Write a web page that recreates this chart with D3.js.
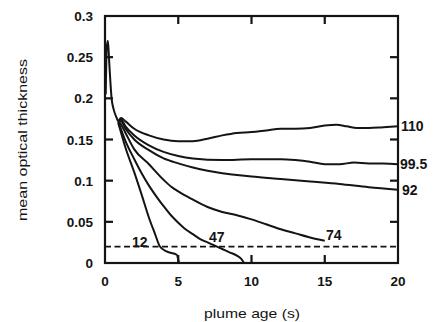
<!DOCTYPE html>
<html><head><meta charset="utf-8">
<script src="https://cdn.jsdelivr.net/npm/d3@7"></script>
<style>body{margin:0;background:#fff}svg{display:block}</style>
</head><body>
<svg id="c" width="433" height="322"></svg>
<script>
// ---- data ----
const xTicks = [0, 5, 10, 15, 20];
const yTicks = [0, 0.05, 0.1, 0.15, 0.2, 0.25, 0.3];
const yTickLabels = ["0", "0.05", "0.1", "0.15", "0.2", "0.25", "0.3"];
const thresholdValue = 0.02;

// shared initial spike
const spikeT = [0.05, 0.12, 0.2, 0.3, 0.45, 0.6, 0.8, 0.9];
const spikeV = [0.205, 0.262, 0.27, 0.24, 0.2, 0.186, 0.176, 0.172];

const seriesNames = ["110", "99.5", "92", "74", "47", "12"];
const t110 = [0.9, 1.1, 1.4, 2, 3, 4, 5, 6, 7, 8, 9, 10, 11, 12, 13, 14, 15, 15.8, 16.5, 17.2, 18, 19, 20];
const v110 = [0.172, 0.176, 0.172, 0.163, 0.155, 0.15, 0.148, 0.148, 0.151, 0.155, 0.158, 0.159, 0.161, 0.163, 0.163, 0.164, 0.167, 0.168, 0.166, 0.164, 0.164, 0.165, 0.166];
const t995 = [0.9, 1.1, 1.4, 2, 3, 4, 5, 6, 8, 10, 12, 13, 14, 15, 16, 17, 18, 19, 20];
const v995 = [0.172, 0.174, 0.166, 0.155, 0.143, 0.135, 0.13, 0.127, 0.125, 0.126, 0.126, 0.125, 0.123, 0.12, 0.12, 0.122, 0.121, 0.121, 0.12];
const t92 = [0.9, 1.1, 1.4, 2, 3, 4, 5, 6, 7, 8, 9, 10, 12, 14, 16, 18, 20];
const v92 = [0.172, 0.172, 0.163, 0.15, 0.137, 0.127, 0.121, 0.116, 0.112, 0.109, 0.107, 0.105, 0.102, 0.099, 0.096, 0.092, 0.089];
const t74 = [0.9, 1.1, 1.4, 2, 3, 4, 4.5, 5, 6, 7, 8, 9, 10, 11, 12, 13, 14, 15];
const v74 = [0.172, 0.168, 0.158, 0.138, 0.12, 0.101, 0.093, 0.087, 0.077, 0.068, 0.062, 0.058, 0.053, 0.047, 0.041, 0.036, 0.031, 0.027];
const t47 = [0.9, 1.1, 1.4, 2, 2.5, 3, 3.5, 4, 4.5, 5, 5.5, 6, 6.5, 7, 7.5, 8, 8.5, 9, 9.3, 9.5];
const v47 = [0.172, 0.162, 0.148, 0.126, 0.109, 0.094, 0.081, 0.069, 0.058, 0.049, 0.041, 0.035, 0.029, 0.025, 0.021, 0.017, 0.013, 0.009, 0.005, 0.0];
const t12 = [0.9, 1.1, 1.4, 2, 2.5, 3, 3.4, 3.75, 4.2, 4.9, 5.0, 5.05];
const v12 = [0.17, 0.158, 0.14, 0.11, 0.083, 0.055, 0.036, 0.02, 0.014, 0.01, 0.004, 0.0];

const seriesT = [t110, t995, t92, t74, t47, t12];
const seriesV = [v110, v995, v92, v74, v47, v12];
// label positions (data coords of text start / baseline)
const labelX = [20.2, 20.14, 20.27, 15.08, 7.1, 1.84];
const labelY = [0.1603, 0.1142, 0.0826, 0.0279, 0.0255, 0.0194];

// ---- drawing ----
const svg = d3.select("#c");
const x = d3.scaleLinear().domain([0, 20]).range([105, 398]);
const y = d3.scaleLinear().domain([0, 0.3]).range([263, 16]);
const ink = "#141414";
const font = "Liberation Sans, Arial, sans-serif";
const tickLen = 8, tickW = 2.2;

const line = d3.line().x(d => x(d[0])).y(d => y(d[1])).curve(d3.curveMonotoneX);

// frame
svg.append("rect").attr("x", x(0)).attr("y", y(0.3))
  .attr("width", x(20) - x(0)).attr("height", y(0) - y(0.3))
  .attr("fill", "none").attr("stroke", ink).attr("stroke-width", 2.2);

// inward ticks on all four sides, drawn as small filled rects
const innerX = xTicks.slice(1, -1), innerY = yTicks.slice(1, -1);
const tg = svg.append("g").attr("fill", ink);
tg.selectAll("rect.bx").data(innerX).join("rect").attr("class", "bx")
  .attr("x", d => x(d) - tickW / 2).attr("y", y(0) - tickLen).attr("width", tickW).attr("height", tickLen);
tg.selectAll("rect.tx").data(innerX).join("rect").attr("class", "tx")
  .attr("x", d => x(d) - tickW / 2).attr("y", y(0.3)).attr("width", tickW).attr("height", tickLen);
tg.selectAll("rect.ly").data(innerY).join("rect").attr("class", "ly")
  .attr("x", x(0)).attr("y", d => y(d) - tickW / 2).attr("width", tickLen).attr("height", tickW);
tg.selectAll("rect.ry").data(innerY).join("rect").attr("class", "ry")
  .attr("x", x(20) - tickLen).attr("y", d => y(d) - tickW / 2).attr("width", tickLen).attr("height", tickW);

// tick labels
svg.append("g").selectAll("text").data(xTicks).join("text")
  .attr("x", d => x(d)).attr("y", y(0) + 23).attr("text-anchor", "middle")
  .attr("font-family", font).attr("font-size", 13.5).attr("font-weight", "bold").attr("fill", ink)
  .text(d => d);
svg.append("g").selectAll("text").data(yTicks).join("text")
  .attr("x", x(0) - 12).attr("y", d => y(d) + 5).attr("text-anchor", "end")
  .attr("font-family", font).attr("font-size", 13.5).attr("font-weight", "bold").attr("fill", ink)
  .text((d, i) => yTickLabels[i]);

// threshold dashed line
svg.append("line").attr("x1", x(0)).attr("x2", x(20))
  .attr("y1", y(thresholdValue)).attr("y2", y(thresholdValue))
  .attr("stroke", ink).attr("stroke-width", 1.8).attr("stroke-dasharray", "6,3.5");

// spike
svg.append("path").datum(d3.zip(spikeT, spikeV)).attr("d", line)
  .attr("fill", "none").attr("stroke", ink).attr("stroke-width", 2);

// curves
seriesT.forEach((ts, i) => {
  svg.append("path").datum(d3.zip(ts, seriesV[i])).attr("d", line)
    .attr("fill", "none").attr("stroke", ink).attr("stroke-width", 2);
});

// curve labels
seriesNames.forEach((n, i) => {
  svg.append("text").attr("x", x(labelX[i])).attr("y", y(labelY[i]))
    .attr("font-family", font).attr("font-size", 14).attr("font-weight", "bold")
    .attr("fill", ink).text(n);
});

// axis titles
svg.append("text").attr("x", 252).attr("y", 318).attr("text-anchor", "middle")
  .attr("font-family", font).attr("font-size", 13).attr("fill", ink)
  .attr("textLength", 96).attr("lengthAdjust", "spacingAndGlyphs").text("plume age (s)");
svg.append("text").attr("transform", "translate(27,140) rotate(-90)").attr("text-anchor", "middle")
  .attr("font-family", font).attr("font-size", 12.5).attr("fill", ink)
  .attr("textLength", 162).attr("lengthAdjust", "spacingAndGlyphs").text("mean optical thickness");
</script>
</body></html>
